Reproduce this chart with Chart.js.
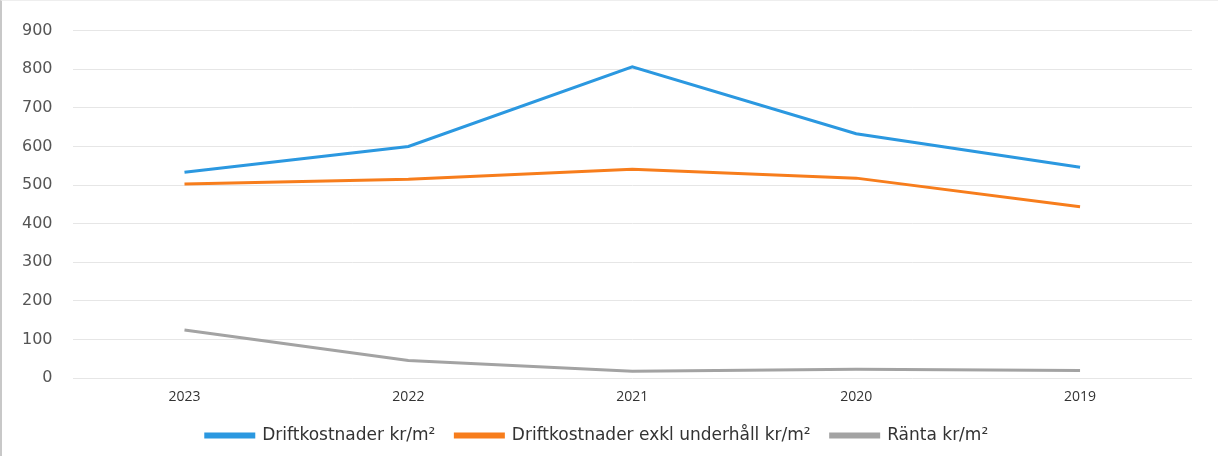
<!DOCTYPE html>
<html>
<head>
<meta charset="utf-8">
<script src="https://cdn.jsdelivr.net/npm/chart.js@4"></script>
<style>
  html, body { margin: 0; padding: 0; background: #fff; }
  #wrap { position: relative; width: 1218px; height: 456px; box-sizing: border-box; border-left: 2px solid #c8c8c8; border-top: 1px solid #eeeeee; }
</style>
</head>
<body>
<div id="wrap"><canvas id="lineChart"></canvas></div>
<script>
const years = ['2023', '2022', '2021', '2020', '2019'];
const driftkostnader = [533, 600, 806, 633, 546];
const driftExklUnderhall = [503, 515, 541, 518, 444];
const ranta = [125, 46, 18, 23, 20];
const yTicks = [0, 100, 200, 300, 400, 500, 600, 700, 800, 900];

const ctx = document.getElementById('lineChart').getContext('2d');
const chart = new Chart(ctx, {
    type: 'line',
    data: {
        labels: years,
        datasets: [
            {
                label: 'Driftkostnader kr/m²',
                data: driftkostnader,
                borderColor: '#2b98e0',
                backgroundColor: '#2b98e0',
                borderWidth: 3,
                pointRadius: 0,
                tension: 0
            },
            {
                label: 'Driftkostnader exkl underhåll kr/m²',
                data: driftExklUnderhall,
                borderColor: '#f77d1c',
                backgroundColor: '#f77d1c',
                borderWidth: 3,
                pointRadius: 0,
                tension: 0
            },
            {
                label: 'Ränta kr/m²',
                data: ranta,
                borderColor: '#a3a3a3',
                backgroundColor: '#a3a3a3',
                borderWidth: 3,
                pointRadius: 0,
                tension: 0
            }
        ]
    },
    options: {
        responsive: true,
        maintainAspectRatio: false,
        animation: false,
        layout: { autoPadding: false, padding: { top: 19, right: 26, left: 0, bottom: 2 } },
        plugins: {
            tooltip: { enabled: false },
            legend: {
                position: 'bottom',
                labels: {
                    boxWidth: 48,
                    boxHeight: 3,
                    padding: 20,
                    color: '#333333',
                    font: { family: 'DejaVu Sans', size: 17 }
                }
            }
        },
        scales: {
            x: {
                offset: true,
                grid: { display: false },
                border: { display: false },
                ticks: { color: '#333333', padding: 2, font: { family: 'Open Sans', size: 14 } }
            },
            y: {
                min: 0,
                max: 900,
                afterBuildTicks: axis => { axis.ticks = yTicks.map(v => ({ value: v })); },
                grid: { color: '#e6e6e6', drawTicks: false },
                border: { display: false },
                ticks: { color: '#555555', padding: 20, font: { family: 'DejaVu Sans', size: 16 } }
            }
        }
    }
});
</script>
</body>
</html>
